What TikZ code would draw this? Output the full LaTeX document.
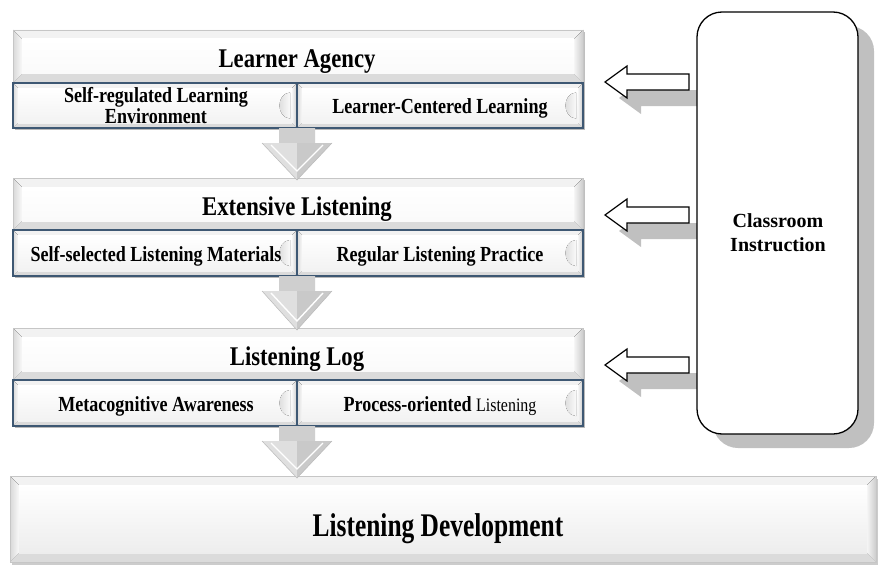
\documentclass[tikz,border=0pt]{standalone}
\usepackage{fontspec}
\setmainfont{Liberation Serif}
\newfontfamily\titlefont[FakeStretch=0.84]{Liberation Serif}
\newfontfamily\devfont[FakeStretch=0.77]{Liberation Serif}
\usetikzlibrary{calc,shadows}
\pgfdeclarelayer{background}
\pgfsetlayers{background,main}
\definecolor{subblue}{RGB}{62,88,115}
\definecolor{shadowgray}{RGB}{192,192,192}

\newcommand\bevelfill[3]{%
  \path (#1.north west) coordinate (bnw) (#1.north east) coordinate (bne)
        (#1.south west) coordinate (bsw) (#1.south east) coordinate (bse);
  \fill[gray!10] (bnw) -- (bne) -- ($(bne)+(-#2,#2)$) -- ($(bnw)+(#2,#2)$) -- cycle;
  \fill[left color=gray!30, right color=gray!5] (bnw) -- ($(bnw)+(#2,#2)$) -- ($(bsw)+(#2,-#2)$) -- (bsw) -- cycle;
  \fill[left color=gray!8, right color=gray!40] (bne) -- ($(bne)+(-#2,#2)$) -- ($(bse)+(-#2,-#2)$) -- (bse) -- cycle;
  \fill[gray!28] (bsw) -- ($(bsw)+(#2,-#2)$) -- ($(bse)+(-#2,-#2)$) -- (bse) -- cycle;
  \fill[top color=white, bottom color=gray!#3] ($(bnw)+(#2,#2)$) rectangle ($(bse)+(-#2,-#2)$);
}
\newcommand\mainband[1]{%
  \fill[gray!50] ($(#1.north west)+(2,2)$) rectangle ($(#1.south east)+(2,2)$);
  \bevelfill{#1}{9}{4}
  \draw[gray!45, line width=0.8] (#1.north west) rectangle (#1.south east);
}
\newcommand\subbox[1]{%
  \fill[gray!55] ($(#1.north west)+(2,2)$) rectangle ($(#1.south east)+(2,2)$);
  \bevelfill{#1}{5}{10}
  \fill[left color=gray!32, right color=gray!4] ($(#1.east)+(-7,-13)$) .. controls ($(#1.east)+(-21,-12)$) and ($(#1.east)+(-21,12)$) .. ($(#1.east)+(-7,13)$) -- cycle;
  \draw[subblue, line width=1.4] (#1.north west) rectangle (#1.south east);
}
\newcommand\blockdown[2]{%
  \path (#1) coordinate (da) (da |- #2.north) coordinate (db);
  \fill[left color=gray!38, middle color=white, right color=gray!38] ($(da)+(-18,0)$) rectangle ($(da)+(18,15)$);
  \fill[gray!25] ($(da)+(-35,15)$) -- ($(da)+(0,15)$) -- ($(db)+(0,2)$) -- cycle;
  \fill[gray!42] ($(da)+(35,15)$) -- ($(da)+(0,15)$) -- ($(db)+(0,2)$) -- cycle;
  \draw[white, line width=1.4] ($(da)+(-26,17)$) -- ($(db)+(0,-7)$) -- ($(da)+(26,17)$);
  \draw[gray!55, line width=0.5] ($(da)+(-35,15)$) -- ($(db)+(0,2)$) -- ($(da)+(35,15)$);
}
\newcommand\harrow[3]{%
  \path[#3] (#1) -- ($(#1)+(22,-16)$) -- ($(#1)+(22,-8)$) -- ($(#2)+(0,-8)$) -- ($(#2)+(0,8)$) -- ($(#1)+(22,8)$) -- ($(#1)+(22,16)$) -- cycle;
}

\begin{document}
\begin{tikzpicture}[x=1pt,y=-1pt,
  boxshape/.style={rectangle, inner sep=0pt, outer sep=0pt},
  titletxt/.style={font=\titlefont\bfseries\fontsize{27}{30}\selectfont, anchor=base, inner sep=0pt},
  subtxt/.style={font=\titlefont\bfseries\fontsize{21.5}{17.5}\selectfont, inner sep=0pt, align=center},
  devtxt/.style={font=\devfont\bfseries\fontsize{33}{36}\selectfont, anchor=base, inner sep=0pt},
  citxt/.style={font=\bfseries\fontsize{20}{24}\selectfont, inner sep=0pt, align=center},
  hollow/.style={draw=black, fill=white, line width=1.2, line join=miter},
  hshadow/.style={fill=shadowgray}]
\useasboundingbox (0,0) rectangle (894,586);
\begin{pgfonlayer}{background}
\fill[white] (0,0) rectangle (894,586);
\end{pgfonlayer}

% boxes
\node[boxshape, minimum width=570, minimum height=53] (la) at (298,56.5) {};
\node[boxshape, minimum width=284, minimum height=45] (s1a) at (155,105.5) {};
\node[boxshape, minimum width=286, minimum height=45] (s1b) at (440,105.5) {};
\node[boxshape, minimum width=570, minimum height=52] (el) at (298,204) {};
\node[boxshape, minimum width=284, minimum height=46] (s2a) at (155,253) {};
\node[boxshape, minimum width=286, minimum height=46] (s2b) at (440,253) {};
\node[boxshape, minimum width=570, minimum height=52] (ll) at (298,354) {};
\node[boxshape, minimum width=284, minimum height=46] (s3a) at (155,403) {};
\node[boxshape, minimum width=286, minimum height=46] (s3b) at (440,403) {};
\node[boxshape, minimum width=866, minimum height=86] (ld) at (443,519) {};

\mainband{la}\mainband{el}\mainband{ll}
\subbox{s1a}\subbox{s1b}\subbox{s2a}\subbox{s2b}\subbox{s3a}\subbox{s3b}

% final box
\fill[gray!40] ($(ld.north west)+(2,3)$) rectangle ($(ld.south east)+(2,3)$);
\bevelfill{ld}{9}{14}
\draw[gray!45, line width=0.8] (ld.north west) rectangle (ld.south east);

% down arrows
\blockdown{s1a.south east}{el}
\blockdown{s2a.south east}{ll}
\blockdown{s3a.south east}{ld}

% classroom instruction
\node[boxshape, draw=black, line width=1.3, fill=white, rounded corners=25,
      minimum width=161, minimum height=422,
      drop shadow={fill=shadowgray, opacity=1, shadow xshift=16pt, shadow yshift=-14pt}] (ci) at (777.5,223) {};

% hollow arrows
\coordinate (t1) at (605,82);
\coordinate (t2) at (605,215);
\coordinate (t3) at (605,365);
\coordinate (e1) at ($(ci.west |- t1)+(-8,0)$);
\coordinate (e2) at ($(ci.west |- t2)+(-8,0)$);
\coordinate (e3) at ($(ci.west |- t3)+(-8,0)$);
\coordinate (t1s) at ($(t1)+(14,16)$);
\coordinate (t2s) at ($(t2)+(14,16)$);
\coordinate (t3s) at ($(t3)+(14,16)$);
\coordinate (e1s) at ($(ci.west |- t1s)+(10,0)$);
\coordinate (e2s) at ($(ci.west |- t2s)+(10,0)$);
\coordinate (e3s) at ($(ci.west |- t3s)+(10,0)$);
\begin{pgfonlayer}{background}
\harrow{t1s}{e1s}{hshadow}
\harrow{t2s}{e2s}{hshadow}
\harrow{t3s}{e3s}{hshadow}
\end{pgfonlayer}
\harrow{t1}{e1}{hollow}
\harrow{t2}{e2}{hollow}
\harrow{t3}{e3}{hollow}

% texts
\node[titletxt] (tla) at (297,67.5) {Learner Agency};
\node[titletxt] (tel) at (297,215) {Extensive Listening};
\node[titletxt] (tll) at (297,365) {Listening Log};
\node[subtxt] (ts1a) at (156,105.3) {Self-regulated Learning\\Environment};
\node[subtxt, anchor=base] (ts1b) at (440,113.3) {Learner-Centered Learning};
\node[subtxt, anchor=base] (ts2a) at (156,261.5) {Self-selected Listening Materials};
\node[subtxt, anchor=base] (ts2b) at (440,261.5) {Regular Listening Practice};
\node[subtxt, anchor=base] (ts3a) at (156,411.5) {Metacognitive Awareness};
\node[subtxt, anchor=base] (ts3b) at (440,411.5) {Process-oriented {\mdseries\fontsize{19}{20}\selectfont Listening}};
\node[devtxt] (tld) at (438,536) {Listening Development};
\node[citxt] (tci) at (778,233) {Classroom\\Instruction};
\end{tikzpicture}
\end{document}
